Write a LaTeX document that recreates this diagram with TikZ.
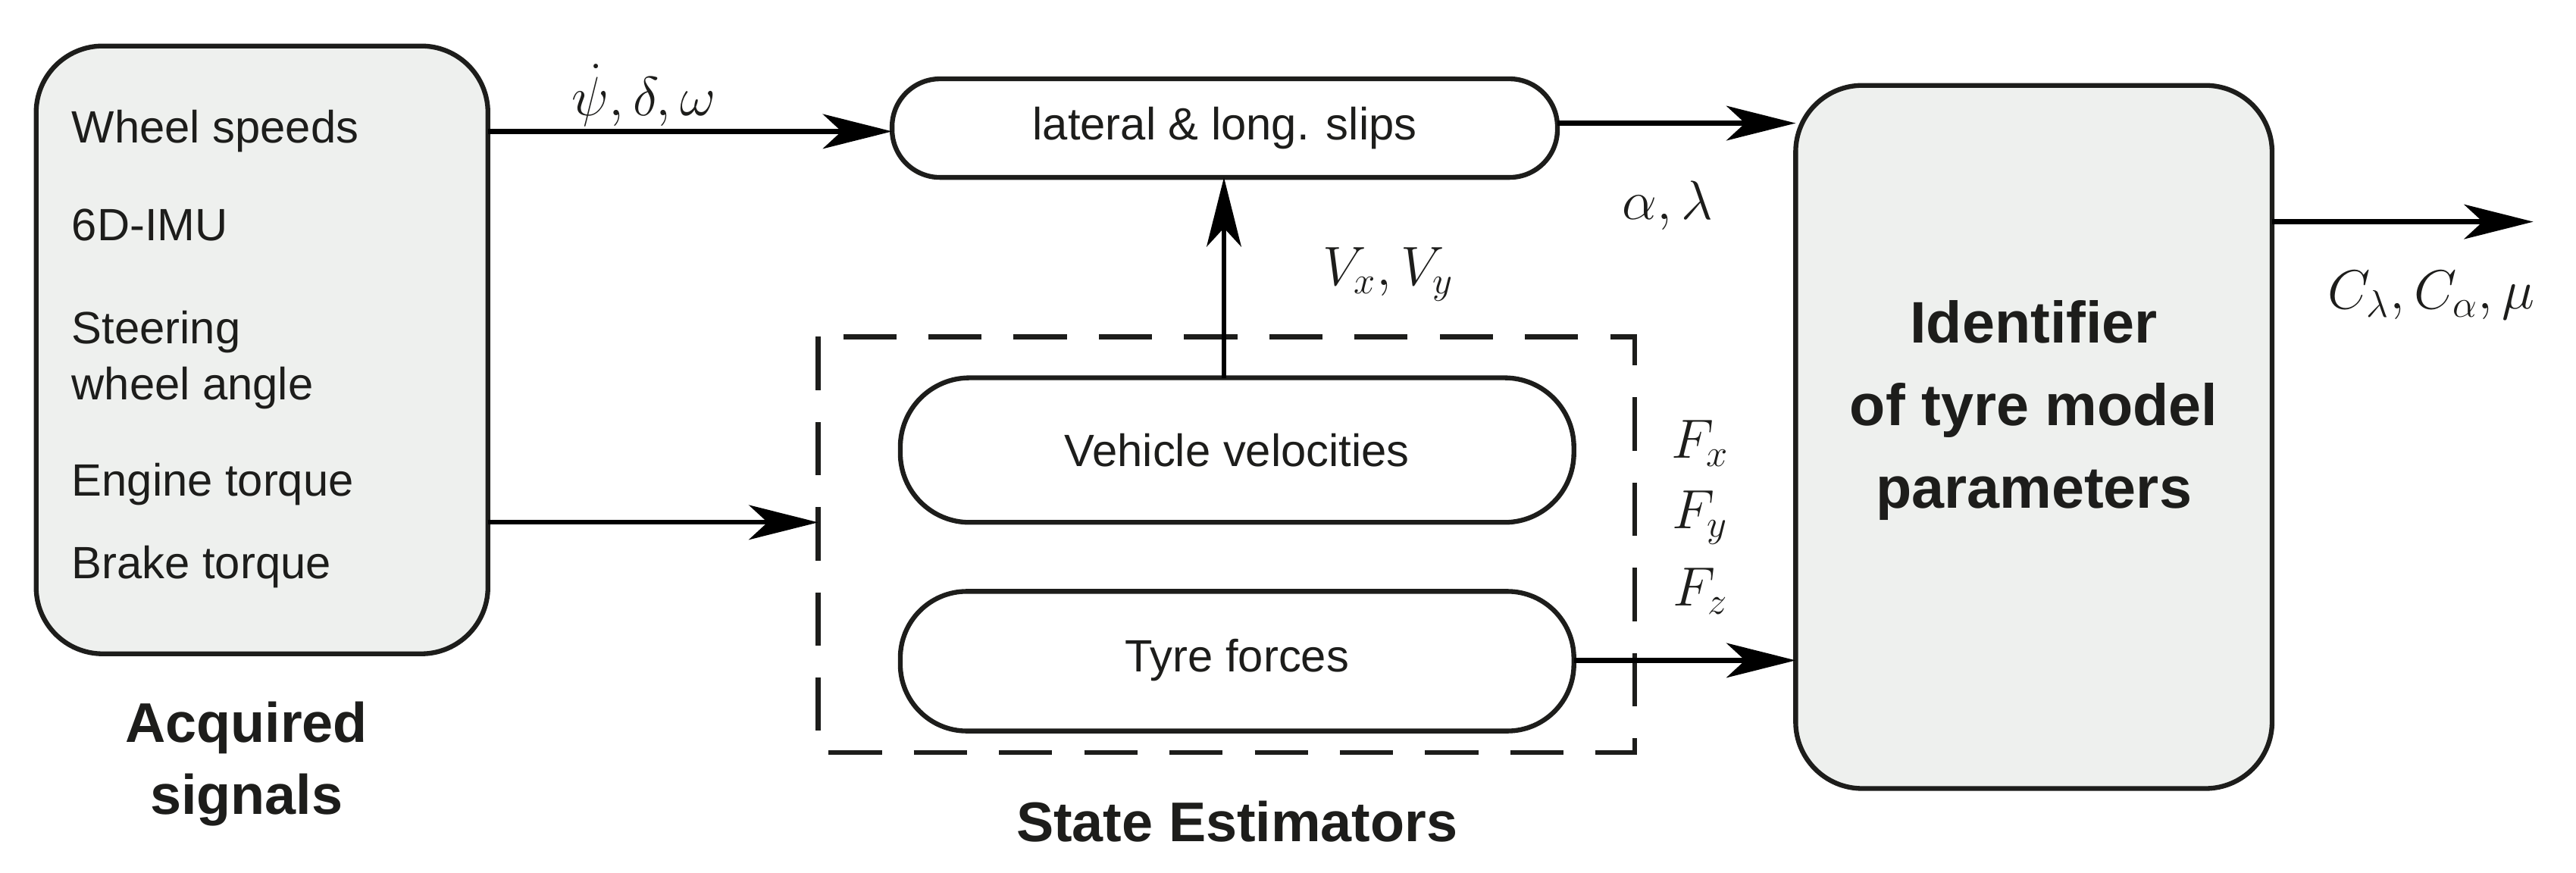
\documentclass[tikz,border=0pt]{standalone}
\usepackage{fontspec}
\setmainfont{Liberation Sans}
\usetikzlibrary{positioning,arrows.meta,calc}
\definecolor{colorbox}{RGB}{238,240,238}
\definecolor{colortext}{RGB}{29,29,27}

\begin{document}
\begin{tikzpicture}[x=0.02168cm,y=-0.02168cm,
    font={\fontsize{17}{21}\selectfont},
    base/.style={text=colortext,draw=colortext,line width=1.8pt,align=center},
    block/.style={base,rounded corners=25pt,fill=colorbox},
    title/.style={text=colortext,font={\fontsize{21}{27}\selectfont\bfseries},align=center},
    sig/.style={text=colortext,font={\fontsize{22}{24}\selectfont}},
    flow/.style={line width=1.8pt,-{Stealth[length=26pt,width=13pt,inset=7pt]}},
]
    \useasboundingbox (0,0) rectangle (1568,531);

    % left block and its signals
    \draw[block] (22,28) rectangle (297,398);
    \coordinate (acqR1) at (297,80);
    \coordinate (acqR2) at (297,318);
    \node[text=colortext,anchor=west,align=left] (s1) at (38,80) {Wheel speeds};
    \node[text=colortext,anchor=west,align=left] (s2) at (38,137) {6D-IMU};
    \node[text=colortext,anchor=west,align=left] (s3) at (38,219) {Steering\\wheel angle};
    \node[text=colortext,anchor=west,align=left] (s4) at (38,295) {Engine torque};
    \node[text=colortext,anchor=west,align=left] (s5) at (38,345) {Brake torque};
    \node[title] (acqt) at (150,465) {Acquired\\signals};

    % estimators
    \draw[base,rounded corners=18pt] (543,48) rectangle (948,108);
    \node[text=colortext] (slip) at (745.5,78) {lateral \& long. slips};
    \draw[base,rounded corners=26pt] (548,230) rectangle (958,318);
    \node[text=colortext] (vel) at (753,274) {Vehicle velocities};
    \draw[base,rounded corners=25pt] (548,360) rectangle (958,445);
    \node[text=colortext] (tyre) at (753,402) {Tyre forces};
    \draw[line width=1.8pt,dash pattern=on 20pt off 12pt,draw=colortext] (498,205) rectangle (995,458);
    \node[title] (est) at (753,500) {State Estimators};

    % identifier
    \draw[block] (1093,52) rectangle (1383,480);
    \node[title,font={\fontsize{22}{31}\selectfont\bfseries}] (ident) at (1238,250) {Identifier\\of tyre model\\parameters};

    % connectors
    \coordinate (slipL) at (543,80);
    \coordinate (slipR) at (948,75);
    \coordinate (slipB) at (745,108);
    \coordinate (velT) at (745,230);
    \coordinate (estL) at (498,318);
    \coordinate (tyreR) at (958,402);
    \coordinate (idL1) at (1093,75);
    \coordinate (idL2) at (1093,402);
    \coordinate (idR) at (1383,135);
    \coordinate (out) at (1542,135);
    \draw[flow] (acqR1) -- (slipL);
    \draw[flow] (acqR2) -- (estL);
    \draw[flow] (slipR) -- (idL1);
    \draw[flow] (velT) -- (slipB);
    \draw[flow] (tyreR) -- (idL2);
    \draw[flow] (idR) -- (out);

    % signal labels
    \node[sig] (l1) at (392,58) {$\dot{\psi},\delta,\omega$};
    \node[sig] (l2) at (1015,125) {$\alpha,\lambda$};
    \node[sig] (l3) at (845,167) {$V_x,V_y$};
    \node[sig] (l4) at (1035,270) {$F_x$};
    \node[sig] (l5) at (1035,315) {$F_y$};
    \node[sig] (l6) at (1035,360) {$F_z$};
    \node[sig] (l7) at (1480,180) {$C_\lambda,C_\alpha,\mu$};
\end{tikzpicture}
\end{document}
